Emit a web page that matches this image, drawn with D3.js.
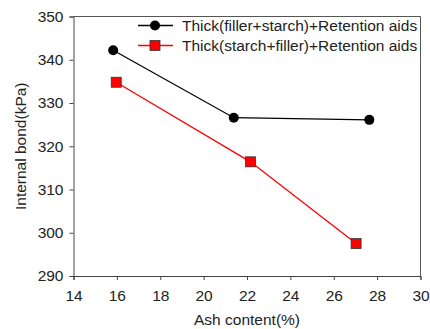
<!DOCTYPE html>
<html>
<head>
<meta charset="utf-8">
<script src="https://cdn.jsdelivr.net/npm/d3@7"></script>
<style>
  html, body { margin: 0; padding: 0; background: #fff; }
  svg { display: block; font-family: "Liberation Sans", Arial, sans-serif; }
</style>
</head>
<body>
<svg id="chart" width="430" height="329"></svg>
<script>
// Ash content (%) for each series
const ashFillerStarch = [15.83, 21.39, 27.64];
const ashStarchFiller = [15.97, 22.16, 27.03];
// Internal bond (kPa)
const bondFillerStarch = [342.2, 326.6, 326.1];
const bondStarchFiller = [334.8, 316.4, 297.5];
// Series names
const seriesNames = ["Thick(filler+starch)+Retention aids", "Thick(starch+filler)+Retention aids"];
// Axis ticks
const xTicks = [14, 16, 18, 20, 22, 24, 26, 28, 30];
const yTicks = [290, 300, 310, 320, 330, 340, 350];

const FS = 15.5;
const svg = d3.select("#chart");

const x = d3.scaleLinear().domain([14, 30]).range([73.5, 420.5]);
const y = d3.scaleLinear().domain([290, 350]).range([276, 16.5]);

// Frame (top and right)
svg.append("path")
  .attr("d", `M${x(14)},${y(350)}H${x(30)}V${y(290)}`)
  .attr("fill", "none").attr("stroke", "#555").attr("stroke-width", 1);

// Axes
const xAxis = svg.append("g").attr("transform", `translate(0,${y(290)})`)
  .call(d3.axisBottom(x).tickValues(xTicks).tickSize(4).tickPadding(10));
const yAxis = svg.append("g").attr("transform", `translate(${x(14)},0)`)
  .call(d3.axisLeft(y).tickValues(yTicks).tickSize(4).tickPadding(6));
[xAxis, yAxis].forEach(g => {
  g.select(".domain").attr("stroke", "#444");
  g.selectAll(".tick line").attr("stroke", "#444");
  g.selectAll(".tick text").attr("font-size", FS).attr("fill", "#222")
    .attr("font-family", "Liberation Sans, Arial, sans-serif");
});

// Axis titles
svg.append("text")
  .attr("x", (x(14) + x(30)) / 2).attr("y", 325)
  .attr("text-anchor", "middle").attr("font-size", FS).attr("fill", "#222")
  .text("Ash content(%)");
svg.append("text")
  .attr("transform", `translate(26,${(y(290) + y(350)) / 2}) rotate(-90)`)
  .attr("text-anchor", "middle").attr("font-size", FS).attr("fill", "#222")
  .text("Internal bond(kPa)");

const line = d3.line().x(d => x(d[0])).y(d => y(d[1]));

const series = [
  { name: seriesNames[0], xs: ashFillerStarch, ys: bondFillerStarch, color: "#000", shape: "circle" },
  { name: seriesNames[1], xs: ashStarchFiller, ys: bondStarchFiller, color: "#ff0000", shape: "square" }
];

function drawMarker(g, cx, cy, s) {
  if (s.shape === "circle") {
    g.append("circle").attr("cx", cx).attr("cy", cy).attr("r", 5).attr("fill", "#000");
  } else {
    g.append("rect").attr("x", cx - 5).attr("y", cy - 5).attr("width", 10).attr("height", 10)
      .attr("fill", "#ff0000").attr("stroke", "#333").attr("stroke-width", 0.8);
  }
}

series.forEach(s => {
  const pts = s.xs.map((v, i) => [v, s.ys[i]]);
  svg.append("path").datum(pts).attr("d", line)
    .attr("fill", "none").attr("stroke", s.color).attr("stroke-width", 1.3);
  const g = svg.append("g");
  pts.forEach(p => drawMarker(g, x(p[0]), y(p[1]), s));
});

// Legend
series.forEach((s, i) => {
  const ly = 25.5 + i * 20;
  svg.append("line").attr("x1", 138).attr("x2", 173).attr("y1", ly).attr("y2", ly)
    .attr("stroke", s.color).attr("stroke-width", 1.3);
  drawMarker(svg, 155, ly, s);
  svg.append("text").attr("x", 182).attr("y", ly + 5.2)
    .attr("font-size", FS).attr("fill", "#222").text(s.name);
});
</script>
</body>
</html>
